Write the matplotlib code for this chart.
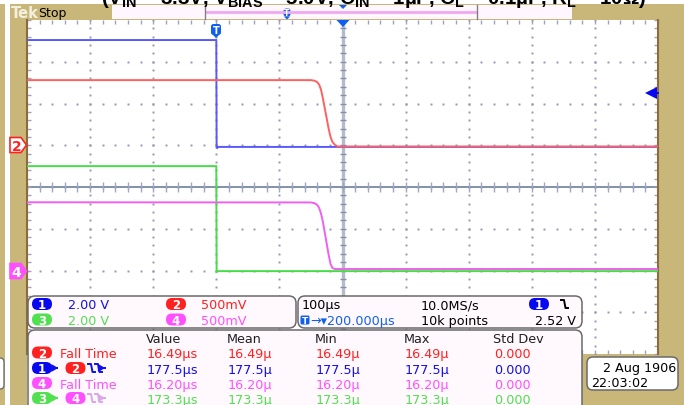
import matplotlib.pyplot as plt
from matplotlib.patches import FancyBboxPatch, Rectangle, Polygon
import numpy as np

plt.rcParams['font.family'] = ['DejaVu Sans']

# waveforms: time in us from trigger, volts
ch1_t = [-300, 0, 0.5, 3, 700]
ch1_v = [5.04, 5.04, -0.15, -0.08, -0.08]
ch2_t = [-300, 150, 156, 160, 163, 166, 169, 172, 175, 178, 181, 184, 188, 192, 700]
ch2_v = [0.78, 0.78, 0.772, 0.755, 0.725, 0.665, 0.56, 0.44, 0.32, 0.2, 0.1, 0.04, 0.005, -0.015, -0.015]
ch3_t = [-300, 0, 0.5, 3, 700]
ch3_v = [5.0, 5.0, -0.06, -0.03, -0.03]
ch4_t = [-300, 150, 156, 160, 163, 166, 169, 172, 175, 178, 181, 184, 188, 700]
ch4_v = [0.817, 0.815, 0.805, 0.785, 0.75, 0.68, 0.58, 0.45, 0.32, 0.19, 0.08, 0.03, 0.018, 0.018]

ch_scale = [2.0, 0.5, 2.0, 0.5]      # V/div
ch_pos = [1.0, 1.0, -2.0, -2.0]      # div
time_per_div = 100                   # us
h_delay = 200                        # us
trig_level = 2.52

scale_text = ['2.00 V', '500mV', '2.00 V', '500mV']
meas_cols = ['Value', 'Mean', 'Min', 'Max', 'Std Dev']
meas_vals = [['16.49µs', '16.49µ', '16.49µ', '16.49µ', '0.000'],
             ['177.5µs', '177.5µ', '177.5µ', '177.5µ', '0.000'],
             ['16.20µs', '16.20µ', '16.20µ', '16.20µ', '0.000'],
             ['173.3µs', '173.3µ', '173.3µ', '173.3µ', '0.000']]

title = ('(V$_\\mathregular{IN}$ = 3.3V, V$_\\mathregular{BIAS}$ = 5.0V, C$_\\mathregular{IN}$ = 1µF, '
         'C$_\\mathregular{L}$ = 0.1µF, R$_\\mathregular{L}$ = 10Ω)')

trace_col = ['#5858ff', '#ff6060', '#48dc48', '#f060f0']
text_col = ['#1010e8', '#ff2020', '#50e050', '#ff50ff']
pill_col = ['#0808f0', '#ff2020', '#50e050', '#ff50ff']
tan = '#c9b779'
brown = '#8c6c3c'

W, H = 684, 406
fig = plt.figure(figsize=(W / 100, H / 100), dpi=100)

# frame
bg = fig.add_axes([0, 0, 1, 1], zorder=0)
bg.set_xlim(0, W)
bg.set_ylim(H, 0)
bg.axis('off')
for x, y, w, h in [(0, 5, 5, H), (10, 5, W - 10, 16), (10, 5, 17, H), (658, 5, 26, H), (582, 355, 102, 51)]:
    bg.add_patch(Rectangle((x, y), w, h, fc=tan, ec='none'))
bg.add_patch(FancyBboxPatch((-6, 359), 10, 31, boxstyle='round,pad=0,rounding_size=4', fc='white', ec='#707070', lw=1))

# graticule
ax = fig.add_axes([27 / W, (H - 355) / H, 631 / W, 334 / H], zorder=1)
t0 = h_delay - 5 * time_per_div
t1 = h_delay + 5 * time_per_div
ax.set_xlim(t0, t1)
ax.set_ylim(-4, 4)
ax.set_facecolor('white')
ax.set_xticks(np.arange(t0, t1 + 1, time_per_div / 5))
ax.set_yticks(np.arange(-4, 4.01, 0.2))
ax.tick_params(direction='in', length=3, width=1, color='#a0a0c0', top=True, right=True,
               labelleft=False, labelbottom=False)
for s in ['top', 'bottom']:
    ax.spines[s].set_visible(False)
for s in ['left', 'right']:
    ax.spines[s].set_color(brown)
    ax.spines[s].set_linewidth(1.5)

dot = '#9494b4'
fine_y = np.arange(-4, 4.01, 0.2)
fine_x = np.arange(t0, t1 + 1, time_per_div / 5)
for gx in np.arange(t0 + time_per_div, t1, time_per_div):
    ax.plot(np.full(fine_y.size, gx), fine_y, ls='none', marker='s', ms=1.4, mew=0, color=dot, zorder=1)
for gy in range(-3, 4):
    ax.plot(fine_x, np.full(fine_x.size, gy), ls='none', marker='s', ms=1.4, mew=0, color=dot, zorder=1)
ax.axvline(h_delay, color='#b4bccb', lw=2.4, zorder=1)
ax.axhline(0, color='#7a88a4', lw=1.3, zorder=1)
ax.plot(fine_x, np.zeros(fine_x.size), ls='none', marker='|', ms=7, mew=1, color='#a0a8c0', zorder=1)
ax.plot(np.full(fine_y.size, h_delay), fine_y, ls='none', marker='_', ms=5, mew=1, color='#8890a8', zorder=1)

traces = [(ch1_t, ch1_v), (ch2_t, ch2_v), (ch3_t, ch3_v), (ch4_t, ch4_v)]
for i, (t, v) in enumerate(traces):
    y = np.array(v) / ch_scale[i] + ch_pos[i]
    ax.plot(t, y, color=trace_col[i], lw=1.4, zorder=3 + i, solid_joinstyle='miter')

# trigger level arrow on right edge
ty = trig_level / ch_scale[0] + ch_pos[0]
ax.plot([t1 - 10, t1], [ty, ty], color='#0808f0', lw=1.4, zorder=8, clip_on=False)
ax.plot([t1 - 11], [ty], marker='<', ms=8, color='#0808f0', mew=0, zorder=8)

# overlay in pixel coords
ov = fig.add_axes([0, 0, 1, 1], zorder=5)
ov.set_xlim(0, W)
ov.set_ylim(H, 0)
ov.axis('off')
ov.patch.set_alpha(0)


def pill(x, y, label, color, w=20, h=12):
    ov.add_patch(FancyBboxPatch((x, y - h / 2), w, h, boxstyle='round,pad=0,rounding_size=6',
                                fc=color, ec='none'))
    ov.text(x + w / 2, y + 4.2, label, color='white', fontsize=8.5, fontweight='bold',
            ha='center', va='baseline')


def tag(x, y, w=10, h=11, size=7):
    ov.add_patch(FancyBboxPatch((x - w / 2, y), w, h, boxstyle='round,pad=0,rounding_size=2.5',
                                fc='#1060f0', ec='none'))
    ov.add_patch(Polygon([[x - 3, y + h], [x + 3, y + h], [x, y + h + 3]], fc='#1060f0', ec='none'))
    ov.text(x, y + h - 1.5, 'T', color='white', fontsize=size, fontweight='bold', ha='center', va='baseline')


def fall_sym(x, y, color, n=2, arrow=True):
    for k in range(n):
        x0 = x + k * 7
        ov.plot([x0, x0 + 3, x0 + 4.5, x0 + 7], [y - 4, y - 4, y + 4, y + 4], color=color, lw=1.4)
    if arrow:
        xa = x + n * 7
        ov.annotate('', xy=(xa + 6, y), xytext=(xa, y),
                    arrowprops=dict(arrowstyle='-|>,head_width=0.2,head_length=0.35', color=color, lw=1.2))


def lead(x, y, color):
    ov.annotate('', xy=(x + 7, y), xytext=(x, y),
                arrowprops=dict(arrowstyle='-|>,head_width=0.2,head_length=0.35', color=color, lw=1.2))


# title (cut off by the top edge, as in the screenshot)
ov.text(374, 4.5, title, fontsize=14.8, fontweight='bold', family='Liberation Sans',
        ha='center', va='baseline', color='black')

# top bar
ov.text(11, 17.5, 'Tek', color='#f4f0e0', fontsize=10.5, fontweight='bold', va='baseline')
ov.text(38.5, 17, 'Stop', color='black', fontsize=9, va='baseline')
ov.add_patch(Rectangle((112, 6), 460, 14, fc='#fff6ff', ec='none'))
ov.plot([206, 476], [13, 13], color='#f0a8f0', lw=2)
ov.plot([204.5, 204.5], [6, 20], color='#808080', lw=1)
ov.plot([477, 477], [6, 20], color='#808080', lw=1)
tag(287, 9.5, w=7, h=8, size=5.5)
ov.add_patch(Polygon([[339, 6], [347, 6], [343, 10]], fc='#1060f0', ec='none'))

# graticule markers
tag(216, 25)
ov.add_patch(Polygon([[336.5, 21], [349.5, 21], [343, 28]], fc='#1060f0', ec='none'))
for yc, lab, fc, ec, tc in [(146, '2', 'white', '#ff2020', '#ff2020'), (272, '4', '#ff50ff', '#ff50ff', 'white')]:
    ov.add_patch(Polygon([[10, yc - 7.5], [21, yc - 7.5], [26.5, yc], [21, yc + 7.5], [10, yc + 7.5]],
                         fc=fc, ec=ec, lw=1.2))
    ov.text(16.5, yc + 5, lab, color=tc, fontsize=10, fontweight='bold', ha='center', va='baseline')

# readout panels
panel_fc = '#fff8fd'
for x, y, w, h in [(28, 297, 268, 32), (298, 297, 284, 32), (28, 331, 554, 90)]:
    ov.add_patch(FancyBboxPatch((x, y), w, h, boxstyle='round,pad=0,rounding_size=7',
                                fc=panel_fc, ec='#6a6a6a', lw=1.1))
ov.add_patch(FancyBboxPatch((587, 358), 91, 33, boxstyle='round,pad=0,rounding_size=6',
                            fc='white', ec='#6a6a6a', lw=1.1))

fs = 9.2
for i in range(4):
    col = i % 2
    row = i // 2
    yc = 305 + row * 15.5
    px = 32 if col == 0 else 166
    pill(px, yc, str(i + 1), pill_col[i])
    ov.text(67.5 if col == 0 else 201.5, yc + 4.5, scale_text[i], color=text_col[i], fontsize=fs, va='baseline')

ov.text(301.5, 309.5, '100µs', color='black', fontsize=fs, va='baseline')
ov.text(421, 309.5, '10.0MS/s', color='black', fontsize=fs, va='baseline')
pill(529, 305, '1', pill_col[0])
fall_sym(561, 305, 'black', n=1, arrow=False)
ov.add_patch(FancyBboxPatch((300.5, 316.5), 9, 9, boxstyle='round,pad=0,rounding_size=1.5',
                            fc='#1060f0', ec='none'))
ov.text(305, 324.5, 'T', color='white', fontsize=6.5, fontweight='bold', ha='center', va='baseline')
ov.text(310.5, 325, '→▾200.000µs', color='#1060f0', fontsize=fs, va='baseline')
ov.text(421, 325, '10k points', color='black', fontsize=fs, va='baseline')
ov.text(576, 325, '2.52 V', color='black', fontsize=fs, ha='right', va='baseline')

col_x = [146, 226.5, 314.5, 404, 493]
for cx, lab in zip(col_x, meas_cols):
    ov.text(cx, 343.5, lab, color='#202020', fontsize=fs, va='baseline')

row_y = [353.5, 369, 384, 399]
row_col = [text_col[1], text_col[0], text_col[3], text_col[2]]
pill(32, row_y[0], '2', pill_col[1])
ov.text(60.5, row_y[0] + 4.6, 'Fall Time', color=text_col[1], fontsize=fs, va='baseline')
pill(32, row_y[1], '1', pill_col[0])
lead(54, row_y[1], text_col[0])
pill(65.5, row_y[1], '2', pill_col[1])
fall_sym(88, row_y[1], text_col[0])
pill(32, row_y[2], '4', pill_col[3])
ov.text(60.5, row_y[2] + 4.6, 'Fall Time', color=text_col[3], fontsize=fs, va='baseline')
pill(32, row_y[3], '3', pill_col[2])
lead(54, row_y[3], text_col[2])
pill(65.5, row_y[3], '4', pill_col[3])
fall_sym(88, row_y[3], '#d8a8e8')
for r in range(4):
    for c in range(5):
        ov.text(col_x[c] + 1, row_y[r] + 4.6, meas_vals[r][c], color=row_col[r], fontsize=fs, va='baseline')

ov.text(676, 372, '2 Aug 1906', color='black', fontsize=fs, ha='right', va='baseline')
ov.text(591, 387, '22:03:02', color='black', fontsize=fs, va='baseline')

fig.savefig('out.png', dpi=100)
